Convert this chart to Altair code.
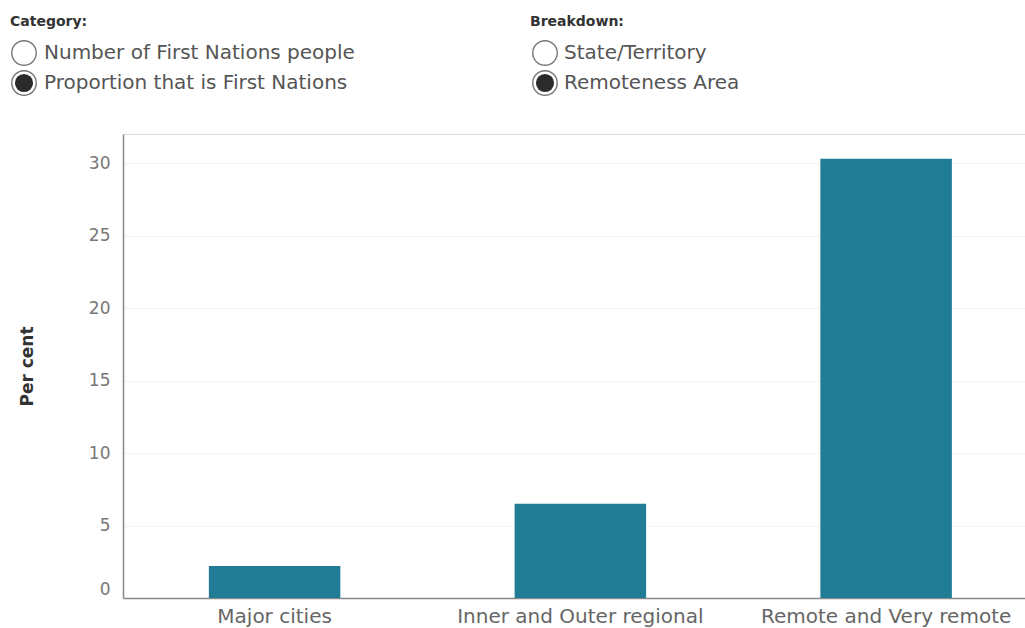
import altair as alt
import pandas as pd

# ---- data ----
areas = ["Major cities", "Inner and Outer regional", "Remote and Very remote"]
percent = [2.2, 6.5, 30.3]
y_ticks = [0, 5, 10, 15, 20, 25, 30]

category_title = "Category:"
category_options = ["Number of First Nations people", "Proportion that is First Nations"]
breakdown_title = "Breakdown:"
breakdown_options = ["State/Territory", "Remoteness Area"]

df = pd.DataFrame({"area": areas, "pct": percent})

FONT = "DejaVu Sans"
W, H = 902, 464
PAD_L, PAD_T = 123, 134

bars = alt.Chart(df).mark_bar(color="#217c95").encode(
    x=alt.X("area:N", sort=areas, title=None,
            scale=alt.Scale(paddingInner=0.57, paddingOuter=0.26, align=0.54),
            axis=alt.Axis(labelAngle=0, labelFontSize=20, labelColor="#666",
                          labelFont=FONT, labelPadding=8, ticks=False,
                          labelLimit=400,
                          domainColor="#888", domainWidth=1.5, grid=False)),
    y=alt.Y("pct:Q", title="Per cent",
            scale=alt.Scale(domain=[0, 32], nice=False),
            axis=alt.Axis(values=y_ticks, labelFontSize=17, labelColor="#777",
                          labelFont=FONT, labelPadding=13, ticks=False,
                          labelFlush=True, labelFlushOffset=0,
                          domainColor="#888", domainWidth=1.5,
                          grid=True, gridColor="#f4f4f4",
                          titleFont=FONT, titleFontSize=17, titleFontWeight="bold",
                          titleColor="#333", titlePadding=52)),
)

def label(text, x, y, size=20, weight="normal", color="#555"):
    return alt.Chart(pd.DataFrame({"t": [text]})).mark_text(
        x=x, y=y, align="left", baseline="middle", font=FONT,
        fontSize=size, fontWeight=weight, color=color
    ).encode(text="t:N")

def circle(x, y, selected):
    d = pd.DataFrame({"k": [0]})
    ring = alt.Chart(d).mark_point(
        shape="circle", x=x, y=y, size=600, filled=False,
        stroke="#777", strokeWidth=1.4
    ).encode(opacity=alt.value(1))
    if not selected:
        return ring
    dot = alt.Chart(d).mark_point(
        shape="circle", x=x, y=y, size=330, filled=True, color="#2b2b2b"
    ).encode(opacity=alt.value(1))
    return ring + dot

top = -PAD_T
layers = [
    label(category_title, 10 - PAD_L, 22 + top, size=14, weight="bold", color="#333"),
    circle(24 - PAD_L, 53 + top, False),
    label(category_options[0], 44 - PAD_L, 53 + top),
    circle(24 - PAD_L, 83 + top, True),
    label(category_options[1], 44 - PAD_L, 83 + top),
    label(breakdown_title, 530 - PAD_L, 22 + top, size=14, weight="bold", color="#333"),
    circle(545 - PAD_L, 53 + top, False),
    label(breakdown_options[0], 564 - PAD_L, 53 + top),
    circle(545 - PAD_L, 83 + top, True),
    label(breakdown_options[1], 564 - PAD_L, 83 + top),
]

chart = alt.layer(bars, *layers).properties(
    width=W, height=H,
    autosize=alt.AutoSizeParams(type="none"),
    padding={"left": PAD_L, "top": PAD_T, "right": 0, "bottom": 30},
).configure_view(stroke=None).configure(background="white")

chart.save("out.html", embed_options={"renderer": "svg", "actions": False})
